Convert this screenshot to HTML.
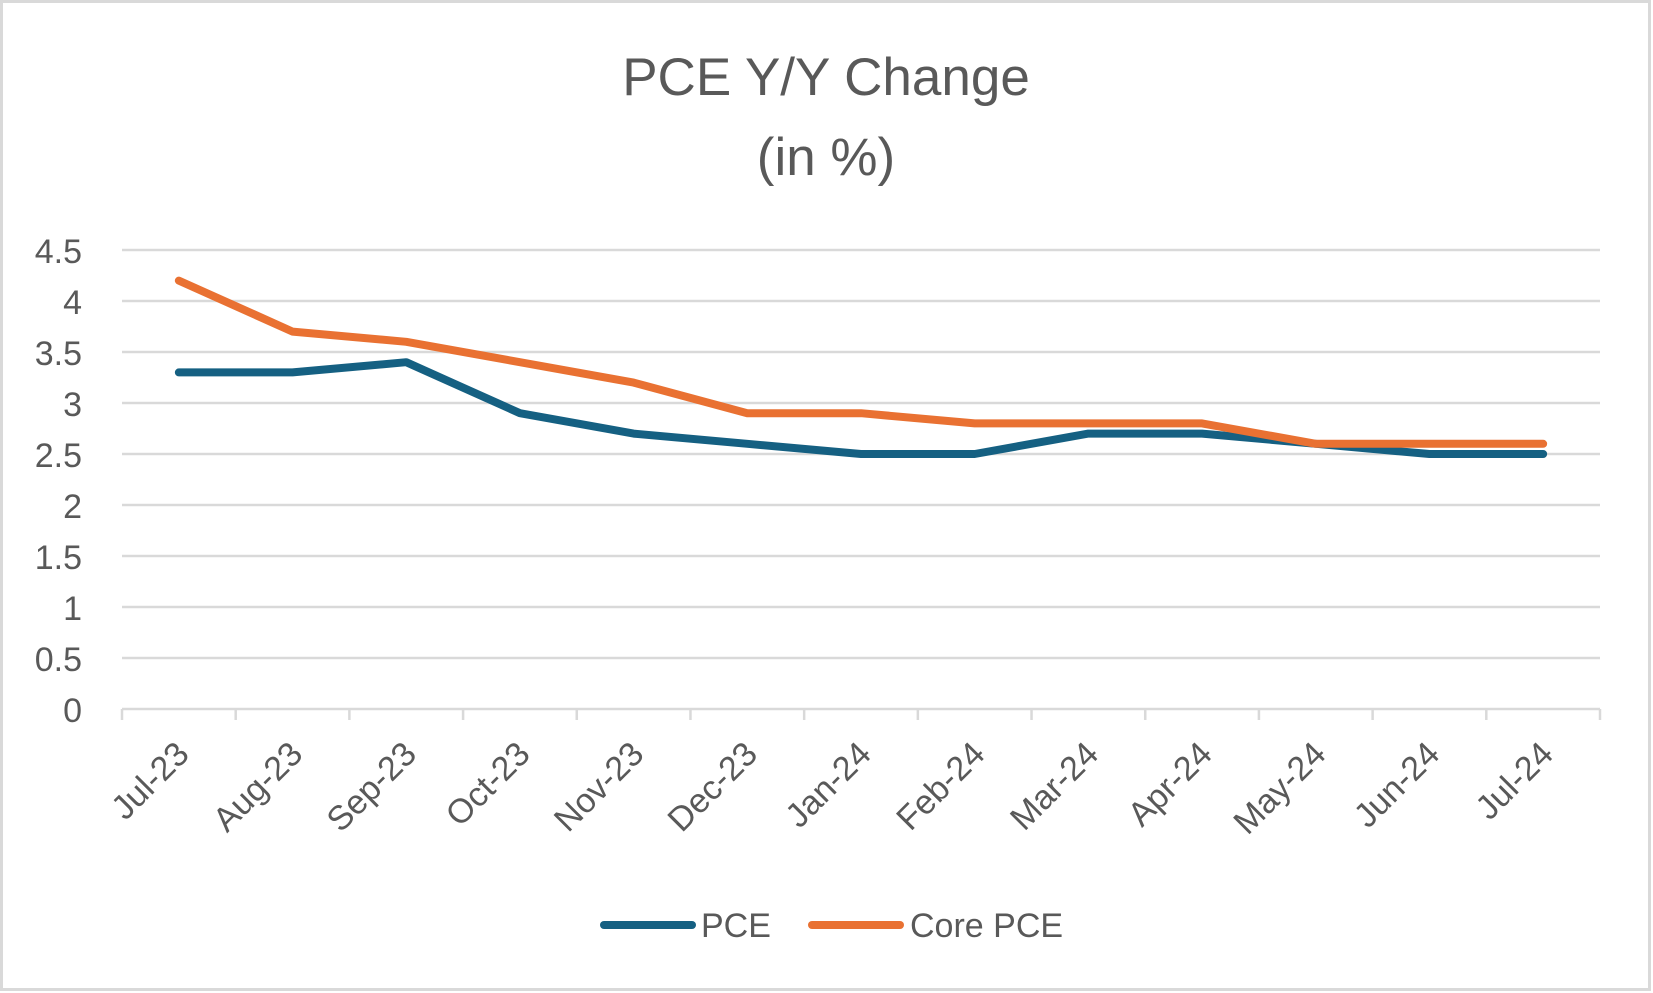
<!DOCTYPE html>
<html><head><meta charset="utf-8">
<style>
html,body{margin:0;padding:0;background:#fff;}
svg{display:block;font-family:"Liberation Sans",sans-serif;}
</style></head>
<body>
<svg id="chart" width="1653" height="993" viewBox="0 0 1653 993" xmlns="http://www.w3.org/2000/svg">
<rect x="1.5" y="1.5" width="1648" height="988" fill="#fff" stroke="#d9d9d9" stroke-width="3"/>
<text x="826" y="95" text-anchor="middle" font-size="53" fill="#595959">PCE Y/Y Change</text>
<text x="826" y="175" text-anchor="middle" font-size="53" fill="#595959">(in %)</text>
<g id="grid"></g>
<g id="yticks"></g>
<g id="xticks"></g>
<g id="series"></g>
<g>
  <line x1="604" y1="925" x2="692" y2="925" stroke="#156082" stroke-width="8" stroke-linecap="round"/>
  <text x="701" y="937" font-size="34" fill="#595959">PCE</text>
  <line x1="812" y1="925" x2="900" y2="925" stroke="#E97132" stroke-width="8" stroke-linecap="round"/>
  <text x="910" y="937" font-size="34" fill="#595959">Core PCE</text>
</g>
</svg>
<script>
const categories = ["Jul-23","Aug-23","Sep-23","Oct-23","Nov-23","Dec-23","Jan-24","Feb-24","Mar-24","Apr-24","May-24","Jun-24","Jul-24"];
const pceValues = [3.3,3.3,3.4,2.9,2.7,2.6,2.5,2.5,2.7,2.7,2.6,2.5,2.5];
const corePceValues = [4.2,3.7,3.6,3.4,3.2,2.9,2.9,2.8,2.8,2.8,2.6,2.6,2.6];
const yTickLabels = ["0","0.5","1","1.5","2","2.5","3","3.5","4","4.5"];

const NS = "http://www.w3.org/2000/svg";
const left = 122, right = 1600, y0 = 709, yTop = 250, yMax = 4.5;
const bw = (right - left) / categories.length;
function xScale(i){ return left + bw * (i + 0.5); }
function yScale(v){ return y0 - (v / yMax) * (y0 - yTop); }
function mk(tag, attrs, parent){ const e = document.createElementNS(NS, tag); for (const k in attrs) e.setAttribute(k, attrs[k]); parent.appendChild(e); return e; }

const grid = document.getElementById('grid');
const yt = document.getElementById('yticks');
yTickLabels.forEach(function(t){
  const v = parseFloat(t), y = yScale(v);
  if (v > 0) {
    const g = mk('line', {x1:left, x2:right, y1:y, y2:y, stroke:'#d9d9d9', 'stroke-width':2.5}, grid);
    
    
  }
  const tx = mk('text', {x:82, y:y + 13, 'text-anchor':'end', 'font-size':34, fill:'#595959'}, yt);
  tx.textContent = t;
  
  
});
const axis = mk('line', {x1:left, x2:right, y1:y0, y2:y0, stroke:'#d9d9d9', 'stroke-width':2.5}, grid);



const xt = document.getElementById('xticks');
for (let i = 0; i <= categories.length; i++) {
  const x = left + bw * i;
  const tk = mk('line', {x1:x, x2:x, y1:y0, y2:y0 + 11, stroke:'#d9d9d9', 'stroke-width':2.5}, xt);
  
  
}
categories.forEach(function(c, i){
  const x = xScale(i) + 12, y = 756;
  const tx = mk('text', {x:x, y:y, 'text-anchor':'end', 'font-size':34, fill:'#595959', transform:'rotate(-45 ' + x + ' ' + y + ')'}, xt);
  tx.textContent = c;
  
  
});

const ser = document.getElementById('series');
function drawLine(vals, color, name){
  const pts = vals.map(function(v, i){ return xScale(i) + ',' + yScale(v); }).join(' ');
  const p = mk('polyline', {points:pts, fill:'none', stroke:color, 'stroke-width':8, 'stroke-linecap':'round', 'stroke-linejoin':'round'}, ser);
  
  
}
drawLine(pceValues, '#156082', 'pce-line');
drawLine(corePceValues, '#E97132', 'core-pce-line');
</script>
</body></html>
